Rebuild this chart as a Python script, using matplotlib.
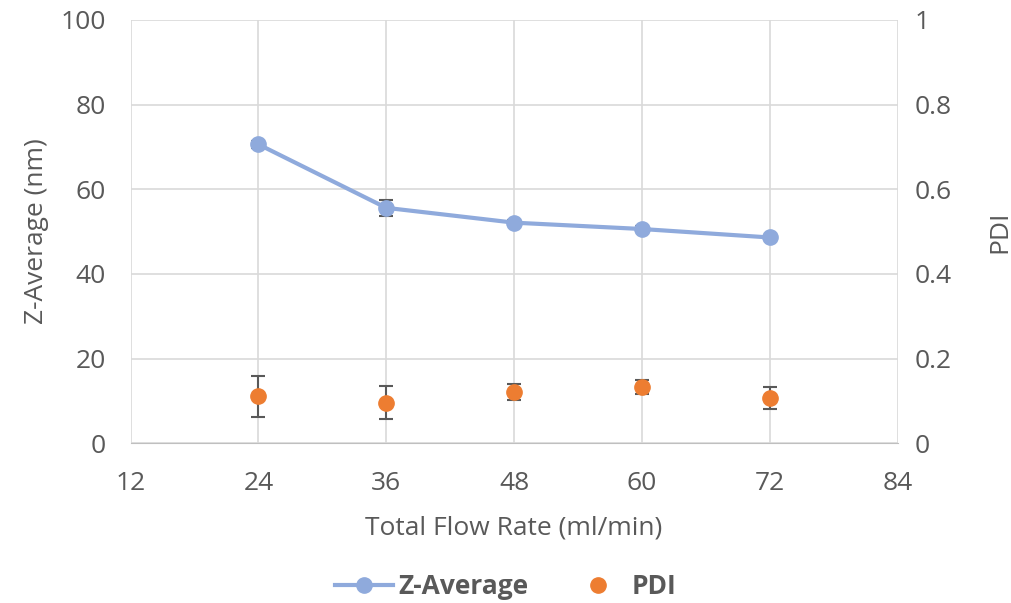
import numpy as np
import matplotlib.pyplot as plt
from matplotlib.lines import Line2D

flow = [24, 36, 48, 60, 72]
z_avg = [70.6, 55.6, 52.1, 50.6, 48.6]
z_err = [0.9, 1.9, 0.6, 0.6, 0.6]
pdi = [0.111, 0.096, 0.121, 0.133, 0.106]
pdi_err = [0.048, 0.039, 0.019, 0.016, 0.026]

plt.rcParams['font.family'] = ['Open Sans', 'DejaVu Sans']
grey = '#595959'
blue = '#8faadc'
orange = '#ed7d31'
fig = plt.figure(figsize=(10.12, 6.03), dpi=100)
ax = fig.add_axes([0.129, 0.265, 0.758, 0.702])
ax2 = ax.twinx()

ax.errorbar(flow, z_avg, yerr=z_err, color=blue, lw=3, marker='o', ms=11,
            ecolor=grey, elinewidth=1.5, capsize=5, capthick=1.5, zorder=3)
ax2.errorbar(flow, pdi, yerr=pdi_err, color=orange, ls='none', marker='o', ms=11,
             ecolor=grey, elinewidth=1.5, capsize=5, capthick=1.5, zorder=3)

ax.set_xlim(12, 84)
ax.set_xticks([12, 24, 36, 48, 60, 72, 84])
ax.set_ylim(0, 100)
ax.set_yticks(np.arange(0, 101, 20))
ax2.set_ylim(0, 1)
ax2.set_yticks([0, 0.2, 0.4, 0.6, 0.8, 1])
ax2.set_yticklabels(['0', '0.2', '0.4', '0.6', '0.8', '1'])
ax.grid(True, color='#d9d9d9', lw=1.2)
ax.set_axisbelow(True)
for a in (ax, ax2):
    for s in a.spines.values():
        s.set_visible(False)
    a.tick_params(length=0, labelsize=19, colors=grey, pad=12)
ax.tick_params(axis='x', pad=20)
ax.tick_params(axis='y', pad=18)
ax.spines['bottom'].set_visible(True)
ax.spines['bottom'].set_color('#bfbfbf')

ax.set_xlabel('Total Flow Rate (ml/min)', fontsize=19, color=grey, labelpad=14)
ax.set_ylabel('Z-Average (nm)', fontsize=19, color=grey, labelpad=8)
ax2.set_ylabel('PDI', fontsize=19, color=grey, labelpad=26)

handles = [Line2D([], [], color=blue, lw=3, marker='o', ms=11),
           Line2D([], [], color=orange, ls='none', marker='o', ms=11)]
leg = fig.legend(handles, ['Z-Average', 'PDI'], loc='lower center', ncol=2, frameon=False,
                 bbox_to_anchor=(0.5, -0.035), prop={'size': 19, 'weight': 'bold'},
                 handlelength=2.2, handletextpad=0.2, columnspacing=1.5)
for t in leg.get_texts():
    t.set_color(grey)

fig.savefig('out.png', dpi=100)
